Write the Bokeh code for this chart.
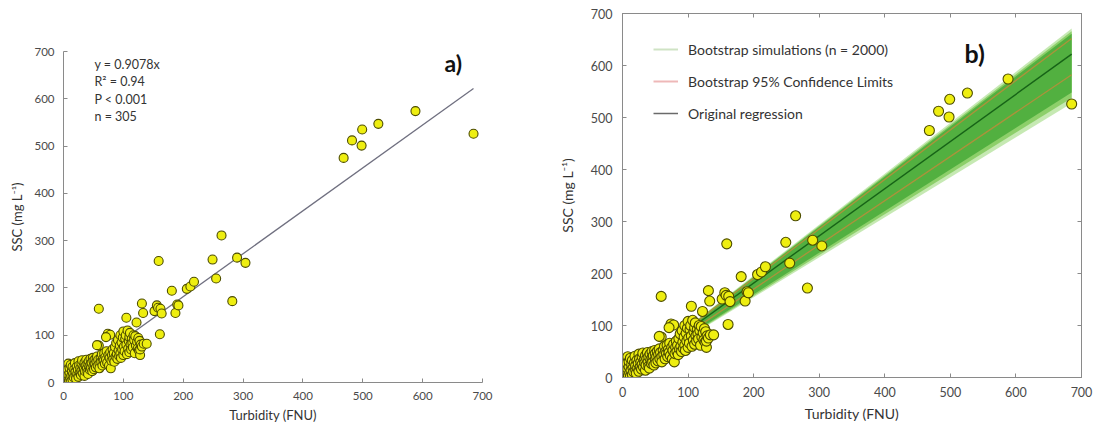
from bokeh.plotting import figure
from bokeh.layouts import row, column
from bokeh.models import (Range1d, LinearAxis, Legend, LegendItem, ColumnDataSource,
                          Label, SingleIntervalTicker)
from bokeh.embed import file_html
from bokeh.resources import INLINE

# Paired turbidity (FNU) / SSC (mg/L) samples
turbidity = [
    3, 4, 5, 6, 6, 7, 8, 8, 9, 10, 10, 11, 12, 12, 13, 14, 15, 15, 16, 17, 18, 19, 20, 20, 21, 22, 23, 24, 25, 25,
    26, 27, 28, 29, 30, 30, 31, 32, 33, 34, 35, 35, 36, 37, 38, 39, 40, 40, 41, 42, 43, 44, 45, 45, 46, 47, 48, 49, 50, 50,
    51, 52, 53, 54, 55, 56, 57, 58, 59, 60, 60, 62, 63, 64, 65, 66, 67, 68, 69, 70, 71, 72, 73, 74, 75, 76, 77, 78, 78, 79,
    80, 81, 82, 83, 84, 85, 86, 87, 88, 89, 90, 91, 92, 93, 94, 95, 95, 96, 97, 98, 99, 100, 100, 101, 102, 103, 104, 105, 105, 106,
    107, 108, 109, 110, 110, 111, 112, 113, 114, 115, 116, 117, 118, 119, 120, 121, 122, 123, 124, 125, 126, 127, 128, 128, 129, 131, 131, 133, 134, 139,
    56, 59, 71, 152, 156, 158, 161, 162, 164, 159, 181, 187, 190, 192, 206, 212, 218, 249, 255, 264, 282, 290, 304, 468, 482, 498, 499, 526, 588, 685,
]
ssc = [
    2, 7, 13, 3, 26, 9, 40, 16, 4, 21, 31, 9, 2, 37, 14, 25, 6, 33, 18, 11, 28, 41, 15, 23, 8, 33, 19, 27, 12, 45,
    36, 21, 30, 16, 40, 25, 47, 20, 33, 28, 14, 42, 24, 36, 48, 30, 22, 40, 18, 45, 34, 27, 50, 38, 30, 42, 24, 52, 35, 46,
    28, 40, 50, 32, 44, 55, 36, 48, 78, 40, 30, 52, 44, 60, 36, 50, 46, 62, 40, 54, 48, 66, 42, 103, 58, 36, 52, 101, 64, 30,
    46, 58, 70, 50, 62, 44, 75, 55, 84, 60, 50, 90, 68, 56, 78, 100, 62, 52, 85, 70, 95, 58, 108, 76, 66, 92, 100, 137, 80, 60,
    110, 72, 88, 96, 64, 105, 80, 70, 92, 84, 74, 100, 90, 62, 98, 78, 127, 86, 72, 94, 68, 88, 58, 70, 80, 167, 76, 147, 82, 82,
    79, 156, 96, 151, 163, 158, 102, 156, 146, 257, 194, 147, 165, 163, 198, 203, 213, 260, 220, 311, 172, 264, 253, 475, 512, 501, 535, 547, 574, 526,
]

# Regression through the origin
slope = 0.9078
fit_x = [0, 685]
fit_y = [slope * v for v in fit_x]

# Envelope of the bootstrap slopes and the 95% limits
boot_outer = (0.77, 0.98)
boot_mid = (0.785, 0.972)
boot_inner = (0.80, 0.965)
ci_slopes = (0.85, 0.952)

stats_lines = ["y = 0.9078x", "R² = 0.94", "P < 0.001", "n = 305"]
legend_labels = ["Bootstrap simulations (n = 2000)", "Bootstrap 95% Confidence Limits", "Original regression"]

FONT = "Lato"
AXIS_GREY = "#8a8a8a"
TEXT_GREY = "#4a4a4a"
PT_FILL = "#eeee10"
PT_LINE = "#4d4d00"

src = ColumnDataSource(dict(x=turbidity, y=ssc))


def style_axes(p, tick_size, title_size):
    for ax in p.xaxis + p.yaxis:
        ax.ticker = SingleIntervalTicker(interval=100)
        ax.axis_line_color = AXIS_GREY
        ax.major_tick_line_color = AXIS_GREY
        ax.major_tick_in = 4
        ax.major_tick_out = 0
        ax.minor_tick_line_color = None
        ax.major_label_text_font = FONT
        ax.major_label_text_font_size = tick_size
        ax.major_label_text_color = TEXT_GREY
        ax.axis_label_text_font = FONT
        ax.axis_label_text_font_size = title_size
        ax.axis_label_text_font_style = "normal"
        ax.axis_label_text_color = "#333333"
    p.xgrid.visible = False
    p.ygrid.visible = False


# ---- panel a ----
pa = figure(width=540, height=435, output_backend="svg", toolbar_location=None,
            x_range=Range1d(0, 700), y_range=Range1d(0, 700),
            min_border_left=63, min_border_right=58, min_border_top=51, min_border_bottom=53,
            x_axis_label="Turbidity (FNU)", y_axis_label="SSC (mg L⁻¹)")
style_axes(pa, "11.5px", "13px")
pa.outline_line_color = None
pa.xaxis.major_label_standoff = 5
pa.yaxis.major_label_standoff = 5
pa.xaxis.axis_label_standoff = 4
pa.yaxis.axis_label_standoff = 6

pa.line(fit_x, fit_y, line_color="#707080", line_width=1.3)
pa.scatter("x", "y", source=src, size=9, fill_color=PT_FILL, line_color=PT_LINE, line_width=1.1)

for i, t in enumerate(stats_lines):
    pa.add_layout(Label(x=94 - 63, y=382 - 64 - 17.3 * i, x_units="screen", y_units="screen",
                        text=t, text_font=FONT, text_font_size="12.5px", text_color="#333333",
                        text_baseline="middle"))
pa.add_layout(Label(x=651, y=675, text="a)", text_font=FONT, text_font_style="bold",
                    text_font_size="23px", text_color="#111111", text_align="center",
                    text_baseline="middle"))

# ---- panel b ----
pb = figure(width=556, height=435, output_backend="svg", toolbar_location=None,
            x_range=Range1d(0, 700), y_range=Range1d(0, 700),
            min_border_left=82, min_border_right=15, min_border_top=13, min_border_bottom=58,
            x_axis_label="Turbidity (FNU)", y_axis_label="SSC (mg L⁻¹)")
pb.add_layout(LinearAxis(), "right")
pb.add_layout(LinearAxis(), "above")
style_axes(pb, "12.5px", "14px")
for ax in (pb.right[0], pb.above[0]):
    ax.major_label_text_font_size = "1px"
    ax.major_label_text_alpha = 0
    ax.major_label_standoff = 0
pb.outline_line_color = AXIS_GREY
pb.xaxis[0].major_label_standoff = 6
pb.yaxis[0].major_label_standoff = 6
pb.xaxis[0].axis_label_standoff = 20
pb.yaxis[0].axis_label_standoff = 12

band_x = fit_x
for (lo, hi), col, a in ((boot_outer, "#b8e4a0", 0.8), (boot_mid, "#86cc62", 0.9), (boot_inner, "#52b040", 1.0)):
    pb.varea(x=band_x, y1=[lo * v for v in band_x], y2=[hi * v for v in band_x], fill_color=col, fill_alpha=a)
for s in ci_slopes:
    pb.line(band_x, [s * v for v in band_x], line_color="#c9883a", line_width=1.3, line_alpha=0.75)
pb.line(fit_x, fit_y, line_color="#176317", line_width=1.4)
pb.scatter("x", "y", source=src, size=10, fill_color=PT_FILL, line_color=PT_LINE, line_width=1.1)

# legend-only swatches (no drawable data)
nan = float("nan")
swatch = dict(x=[nan], y=[nan])
sw_boot = pb.line("x", "y", source=ColumnDataSource(swatch), line_color="#cfe3c4", line_width=2)
sw_ci = pb.line("x", "y", source=ColumnDataSource(swatch), line_color="#eeb8b8", line_width=2)
sw_fit = pb.line("x", "y", source=ColumnDataSource(swatch), line_color="#6a6a6a", line_width=1.5)
legend = Legend(items=[LegendItem(label=legend_labels[0], renderers=[sw_boot]),
                       LegendItem(label=legend_labels[1], renderers=[sw_ci]),
                       LegendItem(label=legend_labels[2], renderers=[sw_fit])],
                location=(31, 254), glyph_width=25, glyph_height=20, label_height=20,
                spacing=12, padding=0, margin=0, label_standoff=10,
                label_text_font=FONT, label_text_font_size="14px", label_text_color="#333333",
                border_line_color=None, background_fill_alpha=0)
pb.add_layout(legend, "center")
pb.add_layout(Label(x=537, y=625, text="b)", text_font=FONT, text_font_style="bold",
                    text_font_size="25px", text_color="#111111", text_align="center",
                    text_baseline="middle"))

# each panel sits in its own column so the two frames keep independent borders
layout = row(column(pa), column(pb))
open("out.html", "w").write(file_html(layout, INLINE))
